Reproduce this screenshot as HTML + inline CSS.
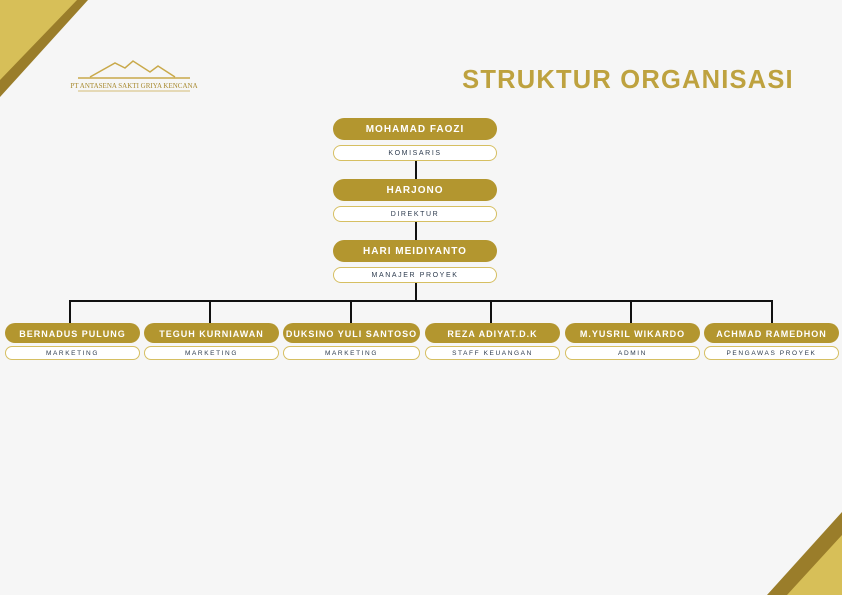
<!DOCTYPE html><html><head><style>
body{margin:0;width:842px;height:595px;background:#f6f6f6;position:relative;overflow:hidden;font-family:"Liberation Sans","DejaVu Sans",sans-serif}
.g{position:absolute;background:#b3962f;border-radius:11px;color:#fff;font-weight:bold;letter-spacing:1px;font-size:10px;display:flex;align-items:center;justify-content:center;padding-top:1px;box-sizing:border-box}
.w{position:absolute;background:#fff;border:1.5px solid #d6bf62;border-radius:8px;box-sizing:border-box;color:#2d3b4e;letter-spacing:1.6px;font-size:7px;display:flex;align-items:center;justify-content:center}
.l{position:absolute;background:#111}
</style></head><body>
<svg width="842" height="595" style="position:absolute;left:0;top:0">
<polygon points="0,0 88,0 0,97" fill="#9a7d2a"/>
<polygon points="0,0 77,0 0,80" fill="#d7bf58"/>
<polygon points="842,512 842,595 767,595" fill="#9a7d2a"/>
<polygon points="842,535 842,595 787,595" fill="#d7bf58"/>
<g stroke="#c9a94a" stroke-width="1.5" fill="none">
<polyline points="90,77 115,63 125,68 133,61 150,72 158,66 175,77"/>
<line x1="78" y1="78" x2="190" y2="78"/><line x1="78" y1="91" x2="190" y2="91" stroke-width="0.7"/>
</g>
<text x="134" y="88" font-family="Liberation Serif" font-size="7" fill="#a88a30" text-anchor="middle">PT ANTASENA SAKTI GRIYA KENCANA</text>
<text x="628" y="88" font-family="Liberation Sans" font-weight="bold" font-size="25.5" fill="#bea23f" text-anchor="middle" letter-spacing="1.2">STRUKTUR ORGANISASI</text>
</svg>
<div class="l" style="left:415px;top:160px;width:2px;height:20px"></div>
<div class="l" style="left:415px;top:221px;width:2px;height:20px"></div>
<div class="l" style="left:415px;top:282px;width:2px;height:20px"></div>
<div class="l" style="left:69px;top:300px;width:704px;height:2px"></div>
<div class="l" style="left:69px;top:300px;width:2px;height:24px"></div>
<div class="l" style="left:209px;top:300px;width:2px;height:24px"></div>
<div class="l" style="left:350px;top:300px;width:2px;height:24px"></div>
<div class="l" style="left:490px;top:300px;width:2px;height:24px"></div>
<div class="l" style="left:630px;top:300px;width:2px;height:24px"></div>
<div class="l" style="left:771px;top:300px;width:2px;height:24px"></div>
<div class="g" style="left:333px;top:118px;width:164px;height:22px">MOHAMAD FAOZI</div>
<div class="w" style="left:333px;top:145px;width:164px;height:16px">KOMISARIS</div>
<div class="g" style="left:333px;top:179px;width:164px;height:22px">HARJONO</div>
<div class="w" style="left:333px;top:206px;width:164px;height:16px">DIREKTUR</div>
<div class="g" style="left:333px;top:240px;width:164px;height:22px">HARI MEIDIYANTO</div>
<div class="w" style="left:333px;top:267px;width:164px;height:16px">MANAJER PROYEK</div>
<div class="g" style="left:5px;top:323px;width:135px;height:20px;font-size:9px">BERNADUS PULUNG</div>
<div class="w" style="left:5px;top:346px;width:135px;height:14px;font-size:6.5px">MARKETING</div>
<div class="g" style="left:144px;top:323px;width:135px;height:20px;font-size:9px">TEGUH KURNIAWAN</div>
<div class="w" style="left:144px;top:346px;width:135px;height:14px;font-size:6.5px">MARKETING</div>
<div class="g" style="left:283px;top:323px;width:137px;height:20px;font-size:9px">DUKSINO YULI SANTOSO</div>
<div class="w" style="left:283px;top:346px;width:137px;height:14px;font-size:6.5px">MARKETING</div>
<div class="g" style="left:425px;top:323px;width:135px;height:20px;font-size:9px">REZA ADIYAT.D.K</div>
<div class="w" style="left:425px;top:346px;width:135px;height:14px;font-size:6.5px">STAFF KEUANGAN</div>
<div class="g" style="left:565px;top:323px;width:135px;height:20px;font-size:9px">M.YUSRIL WIKARDO</div>
<div class="w" style="left:565px;top:346px;width:135px;height:14px;font-size:6.5px">ADMIN</div>
<div class="g" style="left:704px;top:323px;width:135px;height:20px;font-size:9px">ACHMAD RAMEDHON</div>
<div class="w" style="left:704px;top:346px;width:135px;height:14px;font-size:6.5px">PENGAWAS PROYEK</div>
</body></html>
